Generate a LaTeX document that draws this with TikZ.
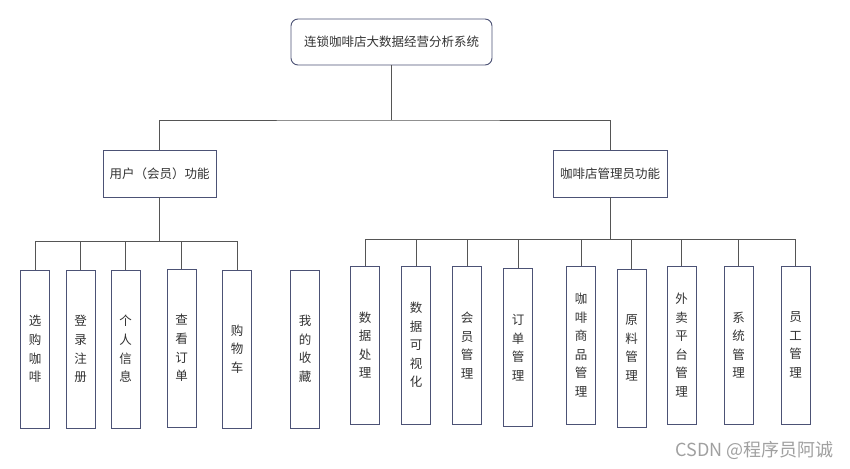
\documentclass[tikz,border=0pt]{standalone}
\usepackage{fontspec}
\newfontfamily\cjk{Noto Sans CJK SC}
\definecolor{boxc}{HTML}{4C5275}
\definecolor{linec}{HTML}{555555}
\definecolor{txt}{HTML}{333333}
\definecolor{wm}{HTML}{A0A0A0}
\begin{document}
\begin{tikzpicture}[x=1pt,y=-1pt,
  box/.style={draw=boxc, line width=0.95pt, fill=white, inner sep=0pt, text=txt, align=center,
    font=\cjk\fontsize{12.5}{18.6}\selectfont},
  vbox/.style={box, minimum width=29pt, minimum height=158pt},
  conn/.style={draw=linec, line width=0.95pt}]
\useasboundingbox (0,0) rectangle (850,468);
% top
\node[box, rounded corners=7pt, minimum width=201pt, minimum height=46pt] (top) at (391.5,42) {连锁咖啡店大数据经营分析系统};
\node[box, minimum width=113pt, minimum height=47pt] (ua) at (159.5,173.5) {用户（会员）功能};
\node[box, minimum width=114pt, minimum height=47pt] (ad) at (610,173.5) {咖啡店管理员功能};
\coordinate (b0) at (391.5,120);
\draw[conn] (top.south) -- (b0);
\draw[conn] (ua.north) |- (b0) -| (ad.north);
% user children
\node[vbox] (u1) at (35,349) {选\\购\\咖\\啡};
\node[vbox] (u2) at (80.5,349) {登\\录\\注\\册};
\node[vbox] (u3) at (125.5,349) {个\\人\\信\\息};
\node[vbox] (u4) at (181.5,348) {查\\看\\订\\单};
\node[vbox] (u5) at (237,349) {购\\物\\车};
\node[vbox] (u6) at (305,349) {我\\的\\收\\藏};
\coordinate (ub) at (159.5,241.5);
\draw[conn] (ua.south) -- (ub);
\foreach \n in {u1,u2,u3,u4,u5} \draw[conn] (\n.north) |- (ub);
% admin children
\node[vbox] (a1) at (365,345) {数\\据\\处\\理};
\node[vbox] (a2) at (416,345) {数\\据\\可\\视\\化};
\node[vbox] (a3) at (467,345.5) {会\\员\\管\\理};
\node[vbox] (a4) at (518,347.5) {订\\单\\管\\理};
\node[vbox] (a5) at (581,345) {咖\\啡\\商\\品\\管\\理};
\node[vbox] (a6) at (631.5,348) {原\\料\\管\\理};
\node[vbox] (a7) at (681.5,345) {外\\卖\\平\\台\\管\\理};
\node[vbox] (a8) at (738.5,345) {系\\统\\管\\理};
\node[vbox] (a9) at (795.5,345) {员\\工\\管\\理};
\coordinate (ab) at (610,239);
\draw[conn] (ad.south) -- (ab);
\foreach \n in {a1,a2,a3,a4,a5,a6,a7,a8,a9} \draw[conn] (\n.north) |- (ab);
% watermark
\node[anchor=east, inner sep=0pt, text=wm, font=\cjk\fontsize{18}{20}\selectfont] (wmk) at (834,450.5) {CSDN @程序员阿诚};
\end{tikzpicture}
\end{document}
